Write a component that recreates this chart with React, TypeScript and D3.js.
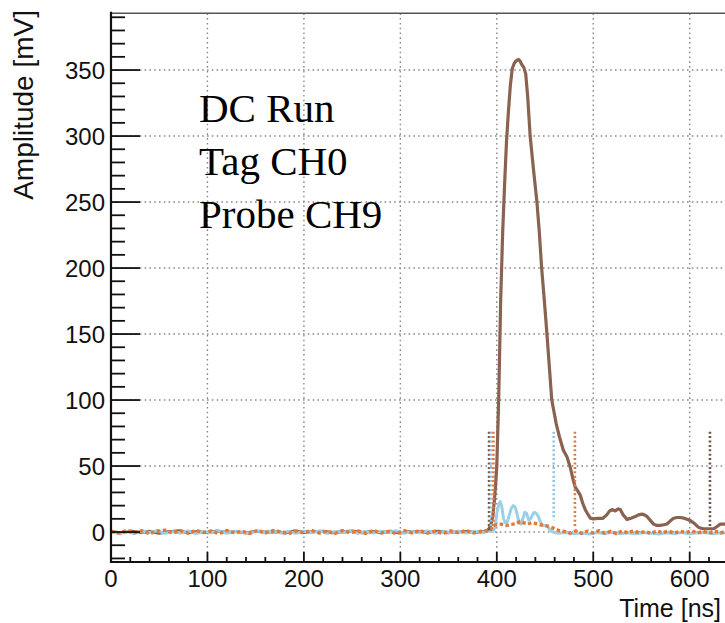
import React from "react";
import * as d3 from "d3";

// ---------- data ----------
// Brown trace (Probe CH9): time [ns], amplitude [mV]
const brownT = [
  0, 10, 20, 30, 40, 50, 60, 70, 80, 90, 100, 110, 120, 130, 140, 150, 160, 170, 180, 190,
  200, 210, 220, 230, 240, 250, 260, 270, 280, 290, 300, 310, 320, 330, 340, 350, 360, 370, 380,
  386, 390, 392, 394, 396, 398, 400, 402, 404, 406, 408, 410, 412, 414, 416, 418, 420, 422.5,
  424, 426, 428, 430, 432, 434.6, 438, 441.6, 444, 446.5, 449, 452, 457, 461.6, 465, 469, 472.7,
  476, 479, 481.3, 484, 486.5, 489, 491.7, 494, 497, 500, 505, 510, 514, 517, 519.5, 522.8, 526,
  528, 531, 535, 539, 543.6, 547, 550.5, 553, 555.7, 559, 562.5, 566, 569.5, 573, 576.4, 580,
  583.3, 587, 590.2, 594, 597.2, 601, 604.1, 607, 609.3, 614, 618, 624.8, 628, 631.7, 637, 645,
];
const brownV = [
  0.4, -0.6, 0.8, -0.3, 0.5, -0.8, 0.2, 0.9, -0.5, 0.3, -0.4, 0.7, -0.2, 0.4, -0.7, 0.6, -0.1, 0.3, -0.6, 0.8,
  -0.3, 0.2, 0.6, -0.5, 0.1, 0.7, -0.4, 0.3, -0.2, 0.5, -0.6, 0.4, 0.1, -0.3, 0.6, -0.5, 0.2, 0.4, -0.2,
  0.3, 1, 2.5, 6, 13, 28, 50, 102, 175, 225, 262, 295, 318, 338, 351, 355, 357, 358,
  357, 354, 352, 347, 330, 300, 275, 250, 228, 200, 178, 150, 100, 82, 72, 62, 57,
  49.5, 40, 34, 31, 28, 22, 17, 14, 10.5, 10, 10.4, 10.4, 13, 16, 17, 16, 17.5,
  17, 13, 9.6, 10.5, 11.8, 13, 13.6, 13, 11.8, 9, 6, 5, 5, 5.5, 6.1, 8.5,
  10.4, 11, 11, 10.5, 9.6, 8.5, 7, 5, 3.5, 2.5, 2.5, 2.5, 4, 6, 6, 5.5,
];

// Light-blue trace (Tag CH0)
const blueT = [
  0, 8, 16, 24, 32, 40, 48, 56, 64, 72, 80, 88, 96, 104, 112, 120, 128, 136, 144, 152,
  160, 168, 176, 184, 192, 200, 208, 216, 224, 232, 240, 248, 256, 264, 272, 280, 288, 296,
  304, 312, 320, 328, 336, 344, 352, 360, 368, 376, 384, 392,
  396, 398, 400, 402, 403.5, 405, 407, 409, 411, 413, 415, 417, 419, 421, 423, 425, 427, 429,
  431, 433, 435, 437, 439, 441, 443, 445, 447, 450, 453, 455, 458,
  464, 472, 480, 488, 496, 504, 512, 520, 528, 536, 544, 552, 560, 568, 576, 584, 592, 600,
  608, 616, 624, 632, 640, 648,
];
const blueV = [
  0.6, -0.9, 0.4, -1.2, 0.8, -0.4, 1.0, -1.0, 0.2, -0.8, 0.9, -1.1, 0.4, -0.6, 0.8, -0.9, 0.6, -0.2, -1.0, 0.8,
  -0.4, 0.9, -0.8, 0.4, -1.0, 0.6, -0.6, 0.9, -0.9, 0.2, -0.4, 0.8, -1.0, 0.4, -0.8, 0.6, -0.2, 0.9,
  -0.9, 0.4, -0.6, 0.8, -1.0, 0.2, -0.4, 0.6, -0.8, 0.4, -0.6, 0.8,
  0.5, 3, 14, 21, 23, 20, 10, 7, 8, 13, 18, 20, 19, 14, 7, 6, 10, 15,
  14, 9, 10, 13, 15, 14, 12, 8, 5, 5, 4, 1.5, 0,
  -1.0, -0.3, -1.4, -0.5, -1.5, -0.4, -1.1, -0.2, -1.3, -0.6, -1.4, -0.3, -1.0, -1.5, -0.5, -1.2, -0.3, -1.3,
  -0.6, -0.4, -1.4, -0.5, -1.0, -0.6,
];

// Orange dotted trace
const orangeT = [
  0, 8, 16, 24, 32, 40, 48, 56, 64, 72, 80, 88, 96, 104, 112, 120, 128, 136, 144, 152,
  160, 168, 176, 184, 192, 200, 208, 216, 224, 232, 240, 248, 256, 264, 272, 280, 288, 296,
  304, 312, 320, 328, 336, 344, 352, 360, 368, 376, 384, 390,
  394, 396, 400, 405, 410, 415, 420, 424, 428, 432, 436, 440, 445, 450, 455, 460, 465, 470,
  476, 482, 488, 494, 500, 506, 512, 518, 524, 530, 536, 542, 548, 554, 560, 566, 572, 578,
  584, 590, 596, 602, 608, 614, 620, 626, 632, 638, 645,
];
const orangeV = [
  0.7, -0.8, 1.2, -0.6, 1.0, -1.2, 0.6, 1.4, -0.7, 1.1, -0.9, 1.3, -0.4, 0.8, -1.3, 1.2, -0.6, 0.7, -1.1, 1.3,
  -0.7, 1.0, 0.3, -1.2, 0.8, -0.6, 1.2, -0.8, 0.6, -1.1, 1.1, -0.4, 0.8, -1.0, 1.2, -0.7, 0.4, -1.2,
  1.0, -0.6, 1.1, -0.8, 0.7, -1.2, 0.8, -0.4, 1.1, -0.7, 0.6, 1.0,
  2, 5, 5.5, 6, 5, 6, 6, 8, 7, 6, 7, 6.5, 5.5, 5, 4, 2.5, 1, 0.5,
  -0.8, 0.9, -1.0, 0.7, -0.6, 1.0, -0.9, 0.6, -1.2, 0.8, -0.7, 1.0, -0.8, 0.4, -1.0, 0.9, -0.6, 0.8,
  -0.9, 0.7, -0.4, 1.0, -0.8, 0.6, -0.9, 0.8, -0.7, 0.9, -0.3,
];

// Vertical dotted window markers
const markerT = [392, 394, 396.5, 459, 481, 621];
const markerTop = [76, 76, 76, 76, 76, 76];
const markerBottom = [1, 3, 4, 9, 3, 4];
const markerSeries = ["brown", "blue", "orange", "blue", "orange", "brown"];

// Axis ticks
const xMajor = [0, 100, 200, 300, 400, 500, 600, 700];
const yMajor = [0, 50, 100, 150, 200, 250, 300, 350];
const xMinor = d3.range(0, 701, 20);
const yMinor = d3.range(-20, 391, 10);

const labelLines = ["DC Run", "Tag CH0", "Probe CH9"];

const COLORS: Record<string, string> = {
  brown: "#8a6250",
  blue: "#9ccfe8",
  orange: "#e07a3a",
};
const MARKER_COLORS: Record<string, string> = {
  brown: "#6e5548",
  blue: "#8cc6e4",
  orange: "#e07a3a",
};

export default function App() {
  const W = 725;
  const H = 623;
  const xs = d3.scaleLinear().domain([0, 700]).range([111, 111 + 700 * 0.9645]);
  const ys = d3.scaleLinear().domain([-22.7, 393]).range([562, 13.3]);

  const line = d3
    .line<[number, number]>()
    .x((d) => xs(d[0]))
    .y((d) => ys(d[1]));

  const zip = (t: number[], v: number[]) => t.map((tt, i) => [tt, v[i]] as [number, number]);

  const left = xs(0);
  const bottom = ys(-22.7);
  const top = ys(393);
  const font = "'Liberation Sans', Arial, Helvetica, sans-serif";

  return (
    <svg
      width={W}
      height={H}
      style={{ position: "absolute", left: 0, top: 0, background: "#fff" }}
    >
      <defs>
        <clipPath id="plot">
          <rect x={left} y={top} width={W - left} height={bottom - top} />
        </clipPath>
      </defs>
      <rect x={0} y={0} width={W} height={H} fill="#fff" />

      {/* grid */}
      <g stroke="#8a8a8a" strokeWidth={1.4} strokeDasharray="1.6,3.2">
        {xMajor
          .filter((t) => t > 0)
          .map((t) => (
            <line key={"gx" + t} x1={xs(t)} x2={xs(t)} y1={top} y2={bottom} />
          ))}
        {yMajor.map((v) => (
          <line key={"gy" + v} x1={left} x2={W} y1={ys(v)} y2={ys(v)} />
        ))}
      </g>

      {/* traces */}
      <g clipPath="url(#plot)" fill="none" strokeLinejoin="round">
        <path d={line(zip(brownT, brownV)) || ""} stroke={COLORS.brown} strokeWidth={3.2} />
        <path d={line(zip(blueT, blueV)) || ""} stroke={COLORS.blue} strokeWidth={3} />
        <path
          d={line(zip(orangeT, orangeV)) || ""}
          stroke={COLORS.orange}
          strokeWidth={3.4}
          strokeDasharray="3.5,2.5"
        />
        {markerT.map((t, i) => (
          <line
            key={"m" + i}
            x1={xs(t)}
            x2={xs(t)}
            y1={ys(markerTop[i])}
            y2={ys(markerBottom[i])}
            stroke={MARKER_COLORS[markerSeries[i]]}
            strokeWidth={2.6}
            strokeDasharray="2,2.4"
          />
        ))}
      </g>

      {/* frame */}
      <line x1={left} x2={W} y1={top} y2={top} stroke="#555" strokeWidth={1.5} />
      <line x1={left} x2={left} y1={top - 1.5} y2={bottom + 1} stroke="#111" strokeWidth={2.2} />
      <line x1={left - 1} x2={W} y1={bottom} y2={bottom} stroke="#111" strokeWidth={2.2} />

      {/* ticks */}
      <g stroke="#111" strokeWidth={1.8}>
        {xMinor.map((t) => (
          <line
            key={"xt" + t}
            x1={xs(t)}
            x2={xs(t)}
            y1={bottom}
            y2={bottom - (t % 100 === 0 ? 10 : 5)}
          />
        ))}
        {yMinor.map((v) => (
          <line
            key={"yt" + v}
            x1={left}
            x2={left + (v % 50 === 0 ? 29 : 14)}
            y1={ys(v)}
            y2={ys(v)}
          />
        ))}
      </g>

      {/* tick labels */}
      <g fontFamily={font} fontSize={24} fill="#111">
        {xMajor
          .filter((t) => xs(t) + 22 < W)
          .map((t) => (
            <text key={"xl" + t} x={xs(t)} y={587} textAnchor="middle">
              {t}
            </text>
          ))}
        {yMajor.map((v) => (
          <text key={"yl" + v} x={105} y={ys(v)} dy="0.36em" textAnchor="end">
            {v}
          </text>
        ))}
      </g>

      {/* axis titles */}
      <text x={721} y={617} textAnchor="end" fontFamily={font} fontSize={25} fill="#111">
        Time [ns]
      </text>
      <text
        transform="translate(33,10) rotate(-90)"
        textAnchor="end"
        fontFamily={font}
        fontSize={28}
        fill="#111"
      >
        Amplitude [mV]
      </text>

      {/* annotation */}
      <g fontFamily="'Liberation Serif', 'Times New Roman', serif" fontSize={41} fill="#000">
        {labelLines.map((s, i) => (
          <text key={s} x={199} y={122 + i * 53}>
            {s}
          </text>
        ))}
      </g>
    </svg>
  );
}
